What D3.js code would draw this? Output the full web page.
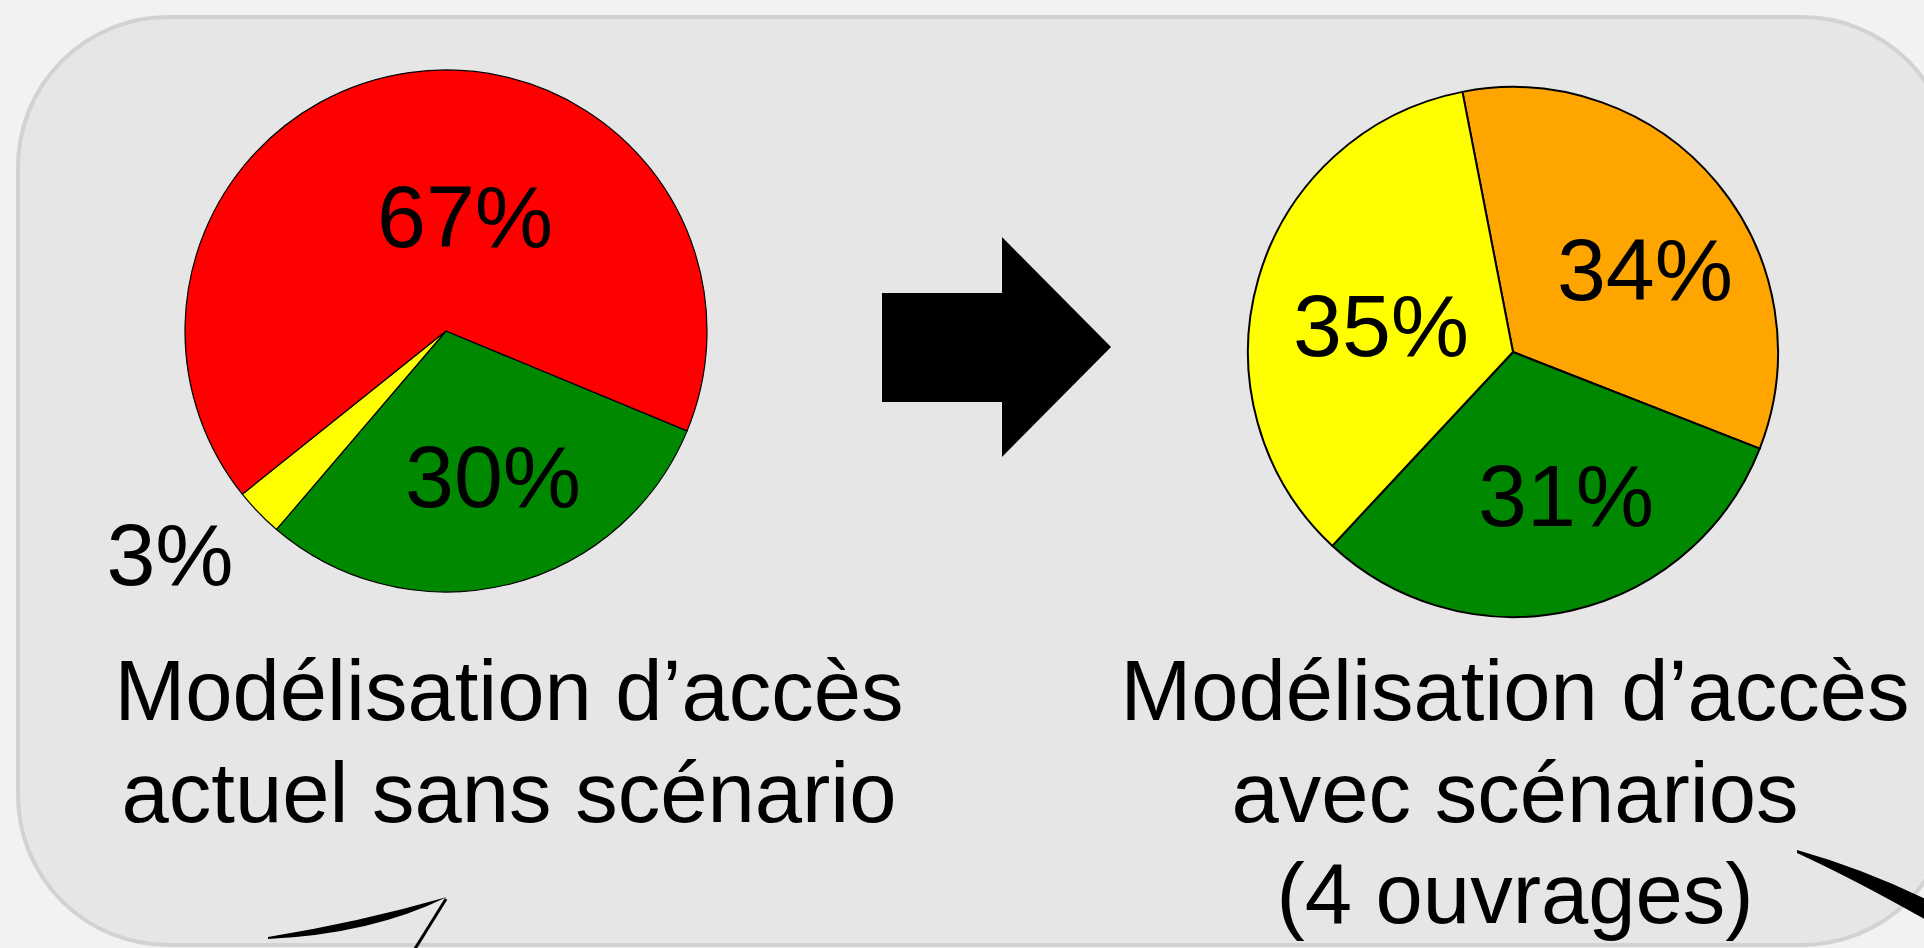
<!DOCTYPE html>
<html>
<head>
<meta charset="utf-8">
<script src="https://cdn.jsdelivr.net/npm/d3@7/dist/d3.min.js"></script>
<style>
  html, body { margin: 0; padding: 0; background: #f2f2f2; overflow: hidden; }
  svg { display: block; }
  text { font-family: "Liberation Sans", Arial, sans-serif; fill: #000; }
</style>
</head>
<body>
<svg id="chart" width="1924" height="948"></svg>
<script>
// ---- Data ----
const leftCategories = ["Vert", "Jaune", "Rouge"];
const leftValues = [30, 3, 67];
const leftColors = ["#008800", "#ffff00", "#ff0000"];

const rightCategories = ["Orange", "Vert", "Jaune"];
const rightValues = [34, 31, 35];
const rightColors = ["#ffa500", "#008800", "#ffff00"];

const leftTitle = ["Modélisation d’accès", "actuel sans scénario"];
const rightTitle = ["Modélisation d’accès", "avec scénarios", "(4 ouvrages)"];

// ---- Layout ----
const svg = d3.select("#chart");
const deg = Math.PI / 180;

// panel
svg.append("rect")
  .attr("x", 18).attr("y", 17)
  .attr("width", 1934).attr("height", 928)
  .attr("rx", 150).attr("ry", 150)
  .attr("fill", "#e6e6e6")
  .attr("stroke", "#d2d2d2")
  .attr("stroke-width", 4);

function drawPie(cfg) {
  const pie = d3.pie().sort(null).value(d => d.value)
    .startAngle(cfg.start * deg).endAngle(cfg.start * deg + 2 * Math.PI);
  const data = cfg.values.map((v, i) => ({ cat: cfg.cats[i], value: v, color: cfg.colors[i] }));
  const arcs = pie(data);
  const arc = d3.arc().innerRadius(0).outerRadius(cfg.r);
  const g = svg.append("g").attr("transform", `translate(${cfg.cx},${cfg.cy})`);
  g.selectAll("path.slice").data(arcs).enter().append("path")
    .attr("class", "slice")
    .attr("d", arc)
    .attr("fill", d => d.data.color)
    .attr("stroke", "#000")
    .attr("stroke-width", cfg.sw)
    .attr("stroke-linejoin", "round");
  g.selectAll("text.lbl").data(arcs).enter().append("text")
    .attr("class", "lbl")
    .attr("x", (d, i) => cfg.labelOffsets[i][0])
    .attr("y", (d, i) => cfg.labelOffsets[i][1])
    .attr("text-anchor", "middle")
    .attr("font-size", 88)
    .text(d => d.data.value + "%");
}

drawPie({
  cx: 446, cy: 331, r: 261, start: 112.5, sw: 1.2,
  cats: leftCategories, values: leftValues, colors: leftColors,
  labelOffsets: [[47, 176], [-276, 254], [19, -84]]
});

drawPie({
  cx: 1513, cy: 352, r: 265, start: -11, sw: 2,
  cats: rightCategories, values: rightValues, colors: rightColors,
  labelOffsets: [[132, -52], [53, 174], [-132, 4]]
});

// arrow
const arrowPts = [[882, 293], [1002, 293], [1002, 237], [1111, 347], [1002, 457], [1002, 402], [882, 402]];
svg.append("path")
  .attr("d", d3.line()(arrowPts) + "Z")
  .attr("fill", "#000");

// titles
function drawTitle(lines, cx) {
  const t = svg.append("text")
    .attr("text-anchor", "middle")
    .attr("font-size", 85);
  lines.forEach((ln, i) => {
    t.append("tspan").attr("x", cx).attr("y", 720 + i * 101.5).text(ln);
  });
}
drawTitle(leftTitle, 509);
drawTitle(rightTitle, 1515);

// decorative fragments at bottom
svg.append("path")
  .attr("d", "M268,937 Q360,922 447,897 Q372,934 268,939 Z")
  .attr("fill", "#000");
svg.append("line")
  .attr("x1", 446).attr("y1", 899).attr("x2", 413).attr("y2", 952)
  .attr("stroke", "#000").attr("stroke-width", 3);
svg.append("path")
  .attr("d", "M1797,850 Q1868,870 1940,906 L1940,928 Q1862,883 1797,853 Z")
  .attr("fill", "#000");
</script>
</body>
</html>
